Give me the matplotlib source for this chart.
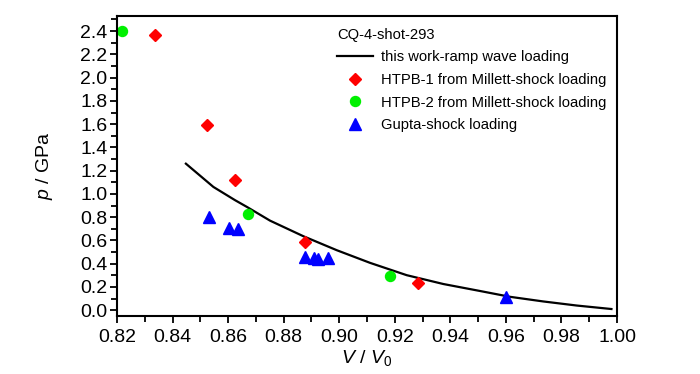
import matplotlib
matplotlib.use("Agg")
import matplotlib.pyplot as plt
from matplotlib.ticker import MultipleLocator, FormatStrFormatter

plt.rcParams['font.family'] = ['Liberation Sans', 'DejaVu Sans']
plt.rcParams['mathtext.fontset'] = 'custom'
plt.rcParams['mathtext.it'] = 'Liberation Sans:italic'
plt.rcParams['mathtext.rm'] = 'Liberation Sans'

# Ramp-wave curve (this work)
curve_v = [0.8448, 0.8547, 0.8625, 0.8667, 0.8751, 0.8871, 0.8991, 0.9111,
           0.9243, 0.9375, 0.9507, 0.9615, 0.9735, 0.9855, 0.998]
curve_p = [1.26, 1.06, 0.946, 0.889, 0.77, 0.636, 0.516, 0.407,
           0.301, 0.225, 0.165, 0.115, 0.075, 0.04, 0.01]

# HTPB-1 (Millett)
htpb1_v = [0.8337, 0.8524, 0.8625, 0.8877, 0.9285]
htpb1_p = [2.37, 1.59, 1.12, 0.585, 0.235]

# HTPB-2 (Millett)
htpb2_v = [0.8218, 0.8673, 0.9183]
htpb2_p = [2.40, 0.83, 0.298]

# Gupta
gupta_v = [0.8532, 0.8602, 0.8634, 0.8878, 0.8910, 0.8925, 0.8960, 0.9599]
gupta_p = [0.80, 0.71, 0.70, 0.46, 0.45, 0.44, 0.445, 0.115]

fig = plt.figure(figsize=(7.0, 3.74), dpi=100)
ax = fig.add_axes([117/700, 1-316/374, 500/700, 300/374])

ax.plot(curve_v, curve_p, color='black', lw=1.6, label='this work-ramp wave loading')
ax.plot(htpb1_v, htpb1_p, ls='none', marker='D', ms=6.3, color='#ff0000',
        label='HTPB-1 from Millett-shock loading')
ax.plot(htpb2_v, htpb2_p, ls='none', marker='o', ms=7.2, color='#00f000',
        label='HTPB-2 from Millett-shock loading')
ax.plot(gupta_v, gupta_p, ls='none', marker='^', ms=8.2, color='#0000ff',
        label='Gupta-shock loading')

ax.set_xlim(0.82, 1.00)
ax.set_ylim(-0.05, 2.53)
ax.xaxis.set_major_locator(MultipleLocator(0.02))
ax.xaxis.set_minor_locator(MultipleLocator(0.01))
ax.yaxis.set_major_locator(MultipleLocator(0.2))
ax.yaxis.set_minor_locator(MultipleLocator(0.1))
ax.xaxis.set_major_formatter(FormatStrFormatter('%.2f'))
ax.yaxis.set_major_formatter(FormatStrFormatter('%.1f'))
ax.tick_params(which='major', direction='out', length=5, width=1.3, labelsize=14)
ax.tick_params(axis='x', which='major', pad=4.5)
ax.tick_params(axis='y', which='major', pad=2)
ax.tick_params(which='minor', direction='out', length=4, width=1.3)
for s in ax.spines.values():
    s.set_linewidth(1.5)

ax.set_xlabel(r'$\it{V}$ / $\it{V}_0$', fontsize=14, labelpad=1)
ax.set_ylabel(r'$\it{p}$ / GPa', fontsize=14, labelpad=18)

leg = ax.legend(loc='upper left', bbox_to_anchor=(331/700, 1-22/374),
                bbox_transform=fig.transFigure, borderaxespad=0, frameon=False,
                title='CQ-4-shot-293', fontsize=10.6, title_fontsize=10.6,
                handlelength=2.45, handletextpad=0.55, labelspacing=0.58,
                borderpad=0.4)
leg._legend_box.align = 'left'

fig.savefig('out.png', dpi=100)
